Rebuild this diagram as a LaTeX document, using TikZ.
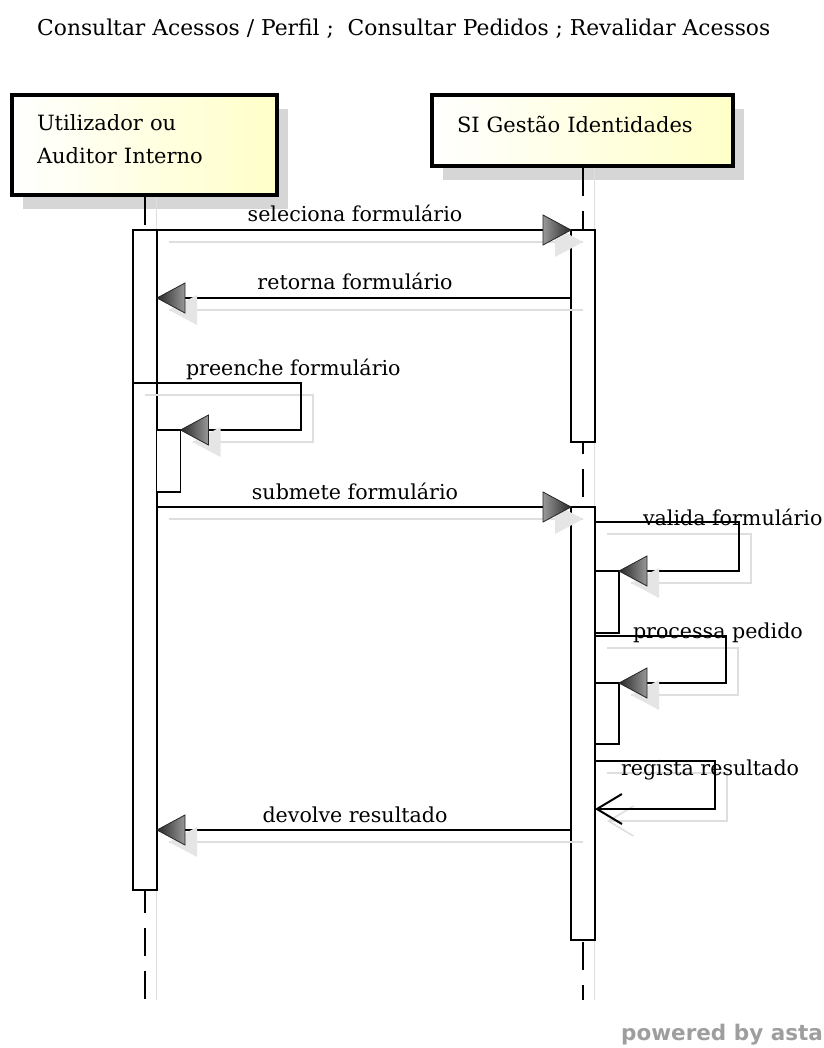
\documentclass[tikz,border=0pt]{standalone}
\usepackage{fontspec}
\setmainfont{DejaVu Serif}
\newfontfamily\astafont{DejaVu Sans}
\usepackage{xcolor}
\definecolor{boxyellow}{RGB}{255,255,200}
\definecolor{shadowgray}{RGB}{214,214,214}
\usepackage{tikz}
\usetikzlibrary{arrows.meta, shadows}
\newcommand\diafont{\fontsize{21pt}{33pt}\selectfont}
\newcommand\lblfont{\fontsize{20.6pt}{24pt}\selectfont}

\begin{document}
\begin{tikzpicture}[
  x=1pt, y=-1pt,
  font=\diafont,
  actor/.style={
    draw, line width=4pt,
    left color=white, right color=boxyellow,
    inner xsep=25pt, align=left,
    drop shadow={shadow xshift=11pt, shadow yshift=-14pt, fill=shadowgray, opacity=1},
  },
  lifeline/.style={
    draw, line width=2pt, dash pattern=on 28pt off 15pt,
    preaction={draw=black!13, line width=1pt, solid, transform canvas={xshift=12pt}},
  },
  act/.style={
    draw, fill=white, line width=1.5pt,
    minimum width=24pt, inner sep=0pt, outer sep=0pt,
  },
  msg/.style={
    draw, line width=2pt,
    preaction={draw=black!13, line width=1.5pt, transform canvas={xshift=12pt, yshift=-12pt}},
  },
  lbl/.style={anchor=base, inner sep=0pt, xshift=-9pt, yshift=8pt, font=\lblfont},
  headR/.pic={
    \fill[black!10] (12,12) -- (-16,-3) -- (-16,27) -- cycle;
    \shadedraw[left color=black!40, right color=black!85, draw=black!85, line width=0.8pt]
      (0,0) -- (-28,-15) -- (-28,15) -- cycle;
  },
  headL/.pic={
    \fill[black!10] (12,12) -- (40,-3) -- (40,27) -- cycle;
    \shadedraw[left color=black!85, right color=black!40, draw=black!85, line width=0.8pt]
      (0,0) -- (28,-15) -- (28,15) -- cycle;
  },
]
\path[fill=white, use as bounding box] (0,0) rectangle (823,1048);

\node[anchor=base west, inner sep=0pt, font=\fontsize{21.8pt}{24pt}\selectfont] (title) at (37,36)
  {Consultar Acessos / Perfil ;~ Consultar Pedidos ; Revalidar Acessos};

\node[actor, text width=215pt, minimum height=100pt, text depth=45pt] (usr) at (144.5,145) {Utilizador ou\\Auditor Interno};
\node[actor, text width=251pt, minimum height=71pt, text depth=12pt] (si) at (582.5,130.5) {SI Gestão Identidades};

\coordinate (lifeEnd) at (0,1000);
\coordinate (lvRet) at (0,298);
\coordinate (lvFill) at (0,383);
\coordinate (cnFill) at (301,430);
\coordinate (lvVal) at (0,522);
\coordinate (cnVal) at (739,571);
\coordinate (lvProc) at (0,636);
\coordinate (cnProc) at (726,683);
\coordinate (lvReg) at (0,761);
\coordinate (cnReg) at (715,809);
\coordinate (lvRes) at (0,830);

\draw[lifeline] (usr.south) -- (usr.south |- lifeEnd);
\draw[lifeline] (si.south) -- (si.south |- lifeEnd);

\node[act, minimum height=660pt] (actU)  at (145,560) {};
\node[act, minimum height=62pt]  (actU2) at (168.5,461) {};
\node[act, minimum height=212pt] (actS1) at (583,336) {};
\node[act, minimum height=433pt] (actS2) at (583,723.5) {};
\node[act, minimum height=62pt]  (actS3) at (607,602) {};
\node[act, minimum height=61pt]  (actS4) at (607,713.5) {};

\draw[msg] (actU.north east) -- node[lbl] {seleciona formulário} (actS1.north west);
\pic at (actS1.north west) {headR};

\draw[msg] (actS1.west |- lvRet) -- node[lbl] {retorna formulário} (actU.east |- lvRet);
\pic at (actU.east |- lvRet) {headL};

\draw[msg] (actU.west |- lvFill) node[lbl, anchor=base west, xshift=61pt] {preenche formulário}
  -| (cnFill) -- (actU2.north east);
\pic at (actU2.north east) {headL};

\draw[msg] (actU.east |- actS2.north) -- node[lbl] {submete formulário} (actS2.north west);
\pic at (actS2.north west) {headR};

\draw[msg] (actS2.east |- lvVal) node[lbl, anchor=base west, xshift=56pt, yshift=-11pt] {valida formulário}
  -| (cnVal) -- (actS3.north east);
\pic at (actS3.north east) {headL};

\draw[msg] (actS2.east |- lvProc) node[lbl, anchor=base west, xshift=46pt, yshift=-10pt] {processa pedido}
  -| (cnProc) -- (actS4.north east);
\pic at (actS4.north east) {headL};

\draw[msg, -{Straight Barb[length=25pt, width=30pt]}] (actS2.east |- lvReg)
  node[lbl, anchor=base west, xshift=34pt, yshift=-22pt] {regista resultado}
  -| (cnReg) -- (actS2.east |- cnReg);

\draw[msg] (actS2.west |- lvRes) -- node[lbl] {devolve resultado} (actU.east |- lvRes);
\pic at (actU.east |- lvRes) {headL};

\node[anchor=base west, inner sep=0pt, text=black!38,
  font=\astafont\bfseries\fontsize{21.5pt}{22pt}\selectfont] (brand) at (621,1040) {powered by asta};
\end{tikzpicture}
\end{document}
